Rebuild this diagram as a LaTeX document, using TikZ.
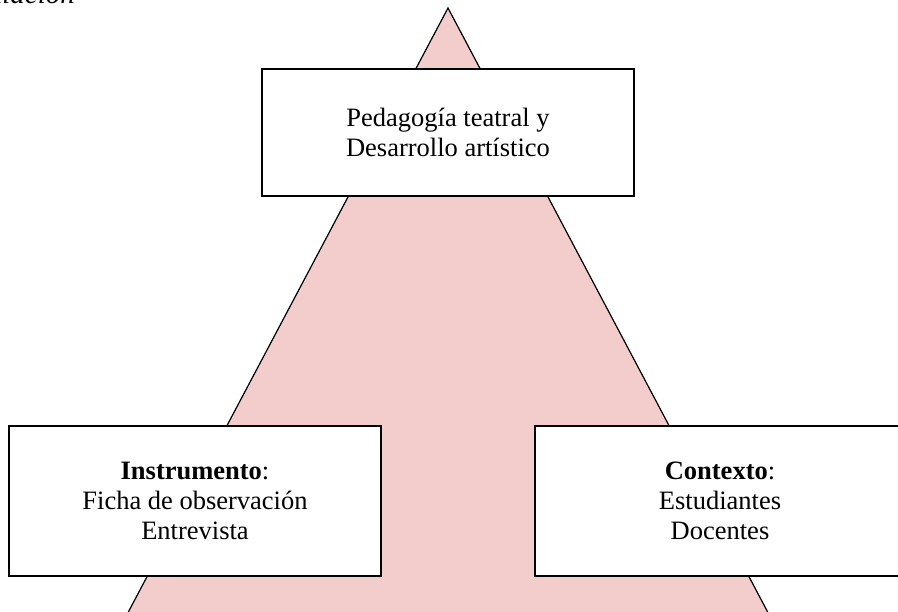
\documentclass[tikz,border=0pt]{standalone}
\usepackage{fontspec}
\setmainfont{Liberation Serif}
\definecolor{tripink}{RGB}{243,204,204}
\tikzset{
  infobox/.style={draw=black, line width=1.5pt, fill=white, align=center,
    inner sep=0pt, font=\fontsize{26.5}{30}\selectfont},
  tri/.style={draw=black, line width=1.2pt, fill=tripink, line join=miter}
}
\begin{document}
\begin{tikzpicture}[x=1pt,y=-1pt]
\useasboundingbox (0,0) rectangle (898,612);
\clip (0,0) rectangle (898,612);
\fill[white] (0,0) rectangle (898,612);
% triangle
\coordinate (apex) at (448,8);
\coordinate (bl) at (113.5,640);
\coordinate (br) at (782.5,640);
\fill[tripink] (bl) -- (apex) -- (br) -- cycle;
\draw[line width=1.2pt] (bl) -- (apex) -- (br);
% caption fragment (cut off at the page edge, as in the reference)
\node[anchor=base east, inner sep=0pt, font=\fontsize{29}{32}\selectfont\itshape] (cap) at (75,4) {Triangulación};
% boxes
\node[infobox, minimum width=372pt, minimum height=127pt] (top) at (448,132.5)
  {Pedagogía teatral y\\Desarrollo artístico};
\node[infobox, minimum width=372pt, minimum height=150pt] (left) at (195,501)
  {\textbf{Instrumento}:\\Ficha de observación\\Entrevista};
\node[infobox, minimum width=370pt, minimum height=150pt] (right) at (720,501)
  {\textbf{Contexto}:\\Estudiantes\\Docentes};
\end{tikzpicture}
\end{document}
